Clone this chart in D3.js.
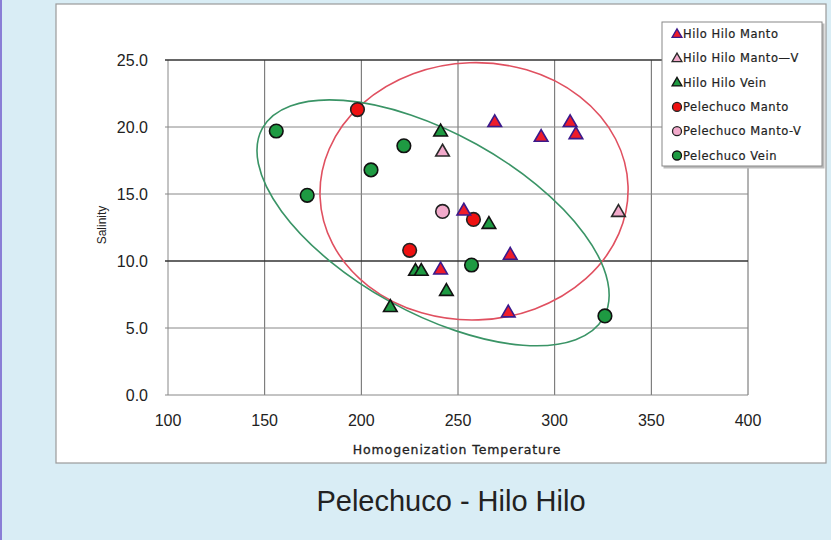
<!DOCTYPE html>
<html>
<head>
<meta charset="utf-8">
<script src="https://cdn.jsdelivr.net/npm/d3@7"></script>
<style>
  body { margin: 0; background: #d9edf5; }
  svg { display: block; }
</style>
</head>
<body>
<svg id="chart"></svg>
<script>
// series, [temperature, salinity]
const hiloManto = [[269, 20.4], [293, 19.3], [308, 20.4], [311, 19.5], [253, 13.8], [277, 10.5], [241, 9.4], [276, 6.2]]
const hiloMantoV = [[242, 18.2], [333, 13.7]]
const hiloVein = [[241, 19.7], [266, 12.8], [228, 9.3], [231, 9.3], [244, 7.8], [215, 6.6]]
const peleManto = [[198, 21.3], [225, 10.8], [258, 13.1]]
const peleMantoV = [[242, 13.7]]
const peleVein = [[156, 19.7], [172, 14.9], [205, 16.8], [222, 18.6], [257, 9.7], [326, 5.9]]

const seriesNames = ["Hilo Hilo Manto", "Hilo Hilo Manto—V", "Hilo Hilo Vein", "Pelechuco Manto", "Pelechuco Manto-V", "Pelechuco Vein"]
const xTicks = [100, 150, 200, 250, 300, 350, 400]
const yTicks = [0, 5, 10, 15, 20, 25]

// hand drawn ellipses: centre (temp, salinity), radii (temp units, salinity units), tilt
const ellipses = [
    {cx: 258.3, cy: 15.2, rx: 79.7, ry: 9.6, angle: -2, color: "#e05060"},
    {cx: 237.1, cy: 12.85, rx: 100.9, ry: 6.7, angle: 29, color: "#3a9466"}
]

const width = 831, height = 540
const svg = d3.select("#chart").attr("width", width).attr("height", height)

// page
svg.append("rect").attr("x", 0).attr("y", 0).attr("width", 2).attr("height", height).attr("fill", "#8a7ed6")
svg.append("rect")
    .attr("x", 56).attr("y", 4).attr("width", 770).attr("height", 459)
    .attr("fill", "#ffffff").attr("stroke", "#9a9a9a").attr("stroke-width", 1.2)

const x = d3.scaleLinear().domain([100, 400]).range([168, 748])
const y = d3.scaleLinear().domain([0, 25]).range([395, 60])

// grid
svg.append("g").selectAll("line").data(xTicks).join("line")
    .attr("x1", d => x(d)).attr("x2", d => x(d))
    .attr("y1", y(0)).attr("y2", y(25))
    .attr("stroke", d => d == 100 ? "#888" : "#666").attr("stroke-width", 1)
svg.append("g").selectAll("line").data(yTicks).join("line")
    .attr("x1", x(100) - 3).attr("x2", x(400))
    .attr("y1", d => y(d)).attr("y2", d => y(d))
    .attr("stroke", d => (d == 10 || d == 25) ? "#333" : "#888")
    .attr("stroke-width", d => (d == 10 || d == 25) ? 1.4 : 1)

// tick labels
svg.append("g").selectAll("text").data(yTicks).join("text")
    .attr("x", 148).attr("y", d => y(d)).attr("dy", "0.35em")
    .attr("text-anchor", "end")
    .style("font-family", "Liberation Sans, Arial, sans-serif").style("font-size", "16px")
    .attr("fill", "#222")
    .text(d3.format(".1f"))
svg.append("g").selectAll("text").data(xTicks).join("text")
    .attr("x", d => x(d)).attr("y", 426)
    .attr("text-anchor", "middle")
    .style("font-family", "Liberation Sans, Arial, sans-serif").style("font-size", "16px")
    .attr("fill", "#222")
    .text(d => d)

// axis titles
svg.append("text")
    .attr("x", 457).attr("y", 454)
    .attr("text-anchor", "middle")
    .style("font-family", "DejaVu Sans, sans-serif").style("font-size", "12.5px")
    .style("letter-spacing", "0.9px")
    .attr("fill", "#222").attr("stroke", "#222").attr("stroke-width", 0.3)
    .text("Homogenization Temperature")
svg.append("text")
    .attr("transform", "translate(106,225) rotate(-90)")
    .attr("text-anchor", "middle")
    .style("font-family", "Liberation Sans, Arial, sans-serif").style("font-size", "12px")
    .attr("fill", "#222")
    .text("Salinity")

// ellipses
svg.append("g").selectAll("ellipse").data(ellipses).join("ellipse")
    .attr("transform", d => `translate(${x(d.cx)},${y(d.cy)}) rotate(${d.angle})`)
    .attr("rx", d => x(d.cx + d.rx) - x(d.cx))
    .attr("ry", d => y(d.cy) - y(d.cy + d.ry))
    .attr("fill", "none")
    .attr("stroke", d => d.color)
    .attr("stroke-width", 1.6)

// marker styles per series
const styles = [
    {data: hiloManto, shape: "tri", fill: "#ee1c2a", stroke: "#3b1a8c"},
    {data: hiloMantoV, shape: "tri", fill: "#f2aacb", stroke: "#2a2a2a"},
    {data: hiloVein, shape: "tri", fill: "#1e9a42", stroke: "#111"},
    {data: peleManto, shape: "circle", fill: "#ee1111", stroke: "#222"},
    {data: peleMantoV, shape: "circle", fill: "#f2aacb", stroke: "#222"},
    {data: peleVein, shape: "circle", fill: "#1e9a42", stroke: "#111"}
]
const triPlot = d3.symbol(d3.symbolTriangle, 80)
const triLegend = d3.symbol(d3.symbolTriangle, 42)

// draw circles first, then triangles (as in the original stacking)
const order = [5, 4, 3, 2, 1, 0]
order.forEach(i => {
    const s = styles[i]
    const g = svg.append("g")
    if (s.shape == "tri") {
        g.selectAll("path").data(s.data).join("path")
            .attr("d", triPlot)
            .attr("transform", d => `translate(${x(d[0])},${y(d[1]) + 1})`)
            .attr("fill", s.fill).attr("stroke", s.stroke).attr("stroke-width", 1.6)
    } else {
        g.selectAll("circle").data(s.data).join("circle")
            .attr("cx", d => x(d[0])).attr("cy", d => y(d[1]))
            .attr("r", 6.8)
            .attr("fill", s.fill).attr("stroke", s.stroke).attr("stroke-width", 1.6)
    }
})

// legend
const legend = svg.append("g").attr("transform", "translate(662,22)")
legend.append("rect")
    .attr("x", 1.5).attr("y", 1.5).attr("width", 161).attr("height", 145)
    .attr("fill", "#bbb")
legend.append("rect")
    .attr("width", 160).attr("height", 144)
    .attr("fill", "#fff").attr("stroke", "#888").attr("stroke-width", 1)
const items = legend.selectAll("g.item").data(styles).join("g")
    .attr("class", "item")
    .attr("transform", (d, i) => `translate(15,${12 + i * 24.3})`)
items.each(function (d) {
    const g = d3.select(this)
    if (d.shape == "tri") {
        g.append("path").attr("d", triLegend).attr("transform", "translate(0,0.5)")
            .attr("fill", d.fill).attr("stroke", d.stroke).attr("stroke-width", 1.3)
    } else {
        g.append("circle").attr("r", 4.5)
            .attr("fill", d.fill).attr("stroke", d.stroke).attr("stroke-width", 1.3)
    }
})
items.append("text")
    .attr("x", 6).attr("dy", "0.35em")
    .style("font-family", "DejaVu Sans, sans-serif").style("font-size", "11.5px")
    .style("letter-spacing", "0.55px")
    .attr("fill", "#222").attr("stroke", "#222").attr("stroke-width", 0.2)
    .text((d, i) => seriesNames[i])

// caption
svg.append("text")
    .attr("x", 451).attr("y", 511)
    .attr("text-anchor", "middle")
    .style("font-family", "Liberation Sans, Arial, sans-serif").style("font-size", "29px")
    .attr("fill", "#222")
    .text("Pelechuco - Hilo Hilo")
</script>
</body>
</html>
